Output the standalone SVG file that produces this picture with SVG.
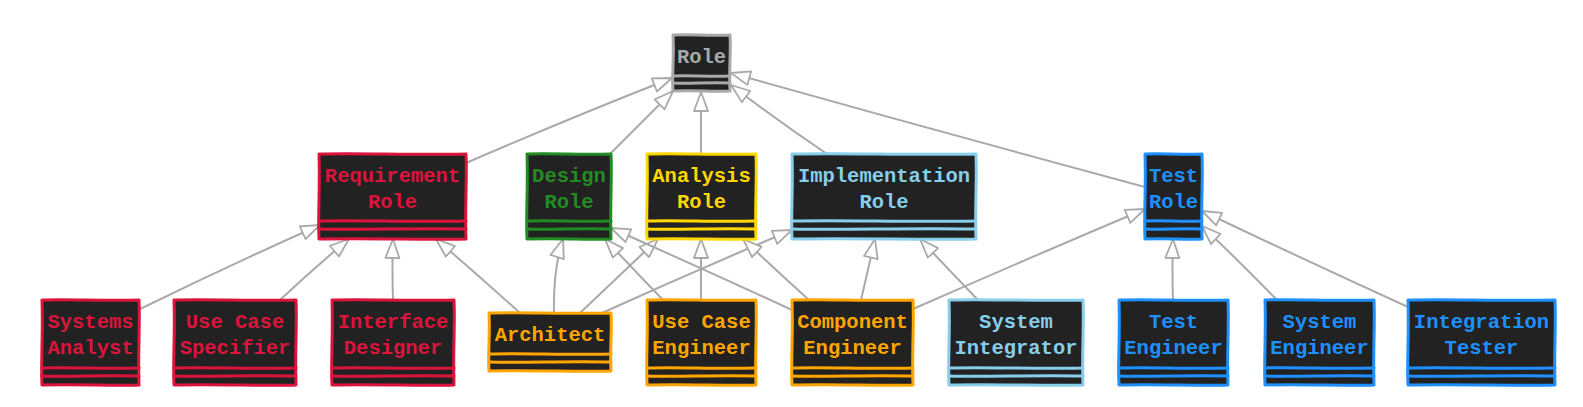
<svg xmlns="http://www.w3.org/2000/svg" width="1583" height="407" viewBox="0 0 1583 407">
<defs>
<marker id="tri" markerUnits="userSpaceOnUse" viewBox="-20 -9 22 18" markerWidth="22" markerHeight="18" refX="0" refY="0" orient="auto">
<path d="M0,0 L-19,-7 L-19,7 Z" fill="#ffffff" stroke="#A9A9A9" stroke-width="1.8" stroke-linejoin="round"/>
</marker>
</defs>
<style>
.o{fill:#222222;stroke-width:3;stroke-linejoin:round}
.s{fill:none;stroke-width:3;stroke-linecap:round}
.lbl{font-family:"Liberation Mono","DejaVu Sans Mono",monospace;font-weight:bold;font-size:20.5px;text-anchor:middle}
.gray path{stroke:#A9A9A9}.gray text{fill:#A9A9A9}
.red path{stroke:#DC143C}.red text{fill:#DC143C}
.green path{stroke:#228B22}.green text{fill:#228B22}
.gold path{stroke:#FFD700}.gold text{fill:#FFD700}
.sky path{stroke:#87CEEB}.sky text{fill:#87CEEB}
.blue path{stroke:#1E90FF}.blue text{fill:#1E90FF}
.orange path{stroke:#FFA500}.orange text{fill:#FFA500}
#connectors path{fill:none;stroke:#A9A9A9;stroke-width:2;stroke-linecap:round;marker-end:url(#tri)}
</style>
<rect width="1583" height="407" fill="#ffffff"/>

<g id="connectors">
<path d="M466,163 Q570,118 672,78"/>
<path d="M611,153 Q641,123 673,91"/>
<path d="M701,154 L701,92"/>
<path d="M827,154 Q778,121 731,85"/>
<path d="M1145,187 Q937,131 731,73"/>
<path d="M138,310 Q230,265 320,225"/>
<path d="M280,300 Q314,268 349,239"/>
<path d="M393,300 Q392,270 393,239"/>
<path d="M520,313 Q478,275 436,239"/>
<path d="M554,313 Q553,270 563,239"/>
<path d="M580,313 Q620,275 658,239"/>
<path d="M602,313 Q697,270 792,230"/>
<path d="M663,300 Q634,270 605,239"/>
<path d="M792,310 Q701,268 611,228"/>
<path d="M701,300 L701,239"/>
<path d="M809,300 Q776,270 743,239"/>
<path d="M861,300 Q868,270 875,239"/>
<path d="M913,309 Q1029,258 1145,209"/>
<path d="M978,300 Q949,270 920,239"/>
<path d="M1173,300 Q1172,270 1173,239"/>
<path d="M1277,300 Q1240,262 1202,226"/>
<path d="M1408,307 Q1305,260 1202,211"/>
</g>

<g id="role" class="gray">
<path class="o" d="M673,35 C690.1,33.8 707.2,36.2 730,35 C731.2,51.8 728.8,68.6 730,91 C712.9,92.2 695.8,89.8 673,91 C671.8,74.2 674.2,57.4 673,35Z"/>
<path class="s" d="M673,76 C690,74.8 707,77.2 730,76 M673,83 C690,84.2 707,81.8 730,83"/>
<text class="lbl" x="701.5" y="63">Role</text>
</g>

<g id="requirement-role" class="red">
<path class="o" d="M319,154 C363.1,152.8 407.2,155.2 466,154 C467.2,179.5 464.8,205 466,239 C421.9,240.2 377.8,237.8 319,239 C317.8,213.5 320.2,188 319,154Z"/>
<path class="s" d="M319,221 C363,219.8 407,222.2 466,221 M319,229 C363,230.2 407,227.8 466,229"/>
<text class="lbl" x="392.5" y="182">Requirement</text><text class="lbl" x="392.5" y="208">Role</text>
</g>

<g id="design-role" class="green">
<path class="o" d="M527,154 C552.2,152.8 577.4,155.2 611,154 C612.2,179.5 609.8,205 611,239 C585.8,240.2 560.6,237.8 527,239 C525.8,213.5 528.2,188 527,154Z"/>
<path class="s" d="M527,221 C552,219.8 577,222.2 611,221 M527,229 C552,230.2 577,227.8 611,229"/>
<text class="lbl" x="569" y="182">Design</text><text class="lbl" x="569" y="208">Role</text>
</g>

<g id="analysis-role" class="gold">
<path class="o" d="M647,154 C679.7,152.8 712.4,155.2 756,154 C757.2,179.5 754.8,205 756,239 C723.3,240.2 690.6,237.8 647,239 C645.8,213.5 648.2,188 647,154Z"/>
<path class="s" d="M647,221 C680,219.8 712,222.2 756,221 M647,229 C680,230.2 712,227.8 756,229"/>
<text class="lbl" x="701.5" y="182">Analysis</text><text class="lbl" x="701.5" y="208">Role</text>
</g>

<g id="implementation-role" class="sky">
<path class="o" d="M792,154 C847.2,152.8 902.4,155.2 976,154 C977.2,179.5 974.8,205 976,239 C920.8,240.2 865.6,237.8 792,239 C790.8,213.5 793.2,188 792,154Z"/>
<path class="s" d="M792,221 C847,219.8 902,222.2 976,221 M792,229 C847,230.2 902,227.8 976,229"/>
<text class="lbl" x="884" y="182">Implementation</text><text class="lbl" x="884" y="208">Role</text>
</g>

<g id="test-role" class="blue">
<path class="o" d="M1145,154 C1162.1,152.8 1179.2,155.2 1202,154 C1203.2,179.5 1200.8,205 1202,239 C1184.9,240.2 1167.8,237.8 1145,239 C1143.8,213.5 1146.2,188 1145,154Z"/>
<path class="s" d="M1145,221 C1162,219.8 1179,222.2 1202,221 M1145,229 C1162,230.2 1179,227.8 1202,229"/>
<text class="lbl" x="1173.5" y="182">Test</text><text class="lbl" x="1173.5" y="208">Role</text>
</g>

<g id="systems-analyst" class="red">
<path class="o" d="M42,300 C71.1,298.8 100.2,301.2 139,300 C140.2,325.5 137.8,351 139,385 C109.9,386.2 80.8,383.8 42,385 C40.8,359.5 43.2,334 42,300Z"/>
<path class="s" d="M42,368 C71,366.8 100,369.2 139,368 M42,376 C71,377.2 100,374.8 139,376"/>
<text class="lbl" x="90.5" y="328">Systems</text><text class="lbl" x="90.5" y="354">Analyst</text>
</g>

<g id="use-case-specifier" class="red">
<path class="o" d="M174,300 C210.6,298.8 247.2,301.2 296,300 C297.2,325.5 294.8,351 296,385 C259.4,386.2 222.8,383.8 174,385 C172.8,359.5 175.2,334 174,300Z"/>
<path class="s" d="M174,368 C211,366.8 247,369.2 296,368 M174,376 C211,377.2 247,374.8 296,376"/>
<text class="lbl" x="235" y="328">Use Case</text><text class="lbl" x="235" y="354">Specifier</text>
</g>

<g id="interface-designer" class="red">
<path class="o" d="M332,300 C368.6,298.8 405.2,301.2 454,300 C455.2,325.5 452.8,351 454,385 C417.4,386.2 380.8,383.8 332,385 C330.8,359.5 333.2,334 332,300Z"/>
<path class="s" d="M332,368 C369,366.8 405,369.2 454,368 M332,376 C369,377.2 405,374.8 454,376"/>
<text class="lbl" x="393" y="328">Interface</text><text class="lbl" x="393" y="354">Designer</text>
</g>

<g id="architect" class="orange">
<path class="o" d="M489,313 C525.6,311.8 562.2,314.2 611,313 C612.2,330.4 609.8,347.8 611,371 C574.4,372.2 537.8,369.8 489,371 C487.8,353.6 490.2,336.2 489,313Z"/>
<path class="s" d="M489,354 C526,352.8 562,355.2 611,354 M489,362 C526,363.2 562,360.8 611,362"/>
<text class="lbl" x="550" y="341">Architect</text>
</g>

<g id="use-case-engineer" class="orange">
<path class="o" d="M647,300 C679.7,298.8 712.4,301.2 756,300 C757.2,325.5 754.8,351 756,385 C723.3,386.2 690.6,383.8 647,385 C645.8,359.5 648.2,334 647,300Z"/>
<path class="s" d="M647,368 C680,366.8 712,369.2 756,368 M647,376 C680,377.2 712,374.8 756,376"/>
<text class="lbl" x="701.5" y="328">Use Case</text><text class="lbl" x="701.5" y="354">Engineer</text>
</g>

<g id="component-engineer" class="orange">
<path class="o" d="M792,300 C828.3,298.8 864.6,301.2 913,300 C914.2,325.5 911.8,351 913,385 C876.7,386.2 840.4,383.8 792,385 C790.8,359.5 793.2,334 792,300Z"/>
<path class="s" d="M792,368 C828,366.8 865,369.2 913,368 M792,376 C828,377.2 865,374.8 913,376"/>
<text class="lbl" x="852.5" y="328">Component</text><text class="lbl" x="852.5" y="354">Engineer</text>
</g>

<g id="system-integrator" class="sky">
<path class="o" d="M949,300 C989.2,298.8 1029.4,301.2 1083,300 C1084.2,325.5 1081.8,351 1083,385 C1042.8,386.2 1002.6,383.8 949,385 C947.8,359.5 950.2,334 949,300Z"/>
<path class="s" d="M949,368 C989,366.8 1029,369.2 1083,368 M949,376 C989,377.2 1029,374.8 1083,376"/>
<text class="lbl" x="1016" y="328">System</text><text class="lbl" x="1016" y="354">Integrator</text>
</g>

<g id="test-engineer" class="blue">
<path class="o" d="M1119,300 C1151.7,298.8 1184.4,301.2 1228,300 C1229.2,325.5 1226.8,351 1228,385 C1195.3,386.2 1162.6,383.8 1119,385 C1117.8,359.5 1120.2,334 1119,300Z"/>
<path class="s" d="M1119,368 C1152,366.8 1184,369.2 1228,368 M1119,376 C1152,377.2 1184,374.8 1228,376"/>
<text class="lbl" x="1173.5" y="328">Test</text><text class="lbl" x="1173.5" y="354">Engineer</text>
</g>

<g id="system-engineer" class="blue">
<path class="o" d="M1265,300 C1297.7,298.8 1330.4,301.2 1374,300 C1375.2,325.5 1372.8,351 1374,385 C1341.3,386.2 1308.6,383.8 1265,385 C1263.8,359.5 1266.2,334 1265,300Z"/>
<path class="s" d="M1265,368 C1298,366.8 1330,369.2 1374,368 M1265,376 C1298,377.2 1330,374.8 1374,376"/>
<text class="lbl" x="1319.5" y="328">System</text><text class="lbl" x="1319.5" y="354">Engineer</text>
</g>

<g id="integration-tester" class="blue">
<path class="o" d="M1408,300 C1452.1,298.8 1496.2,301.2 1555,300 C1556.2,325.5 1553.8,351 1555,385 C1510.9,386.2 1466.8,383.8 1408,385 C1406.8,359.5 1409.2,334 1408,300Z"/>
<path class="s" d="M1408,368 C1452,366.8 1496,369.2 1555,368 M1408,376 C1452,377.2 1496,374.8 1555,376"/>
<text class="lbl" x="1481.5" y="328">Integration</text><text class="lbl" x="1481.5" y="354">Tester</text>
</g>
</svg>
